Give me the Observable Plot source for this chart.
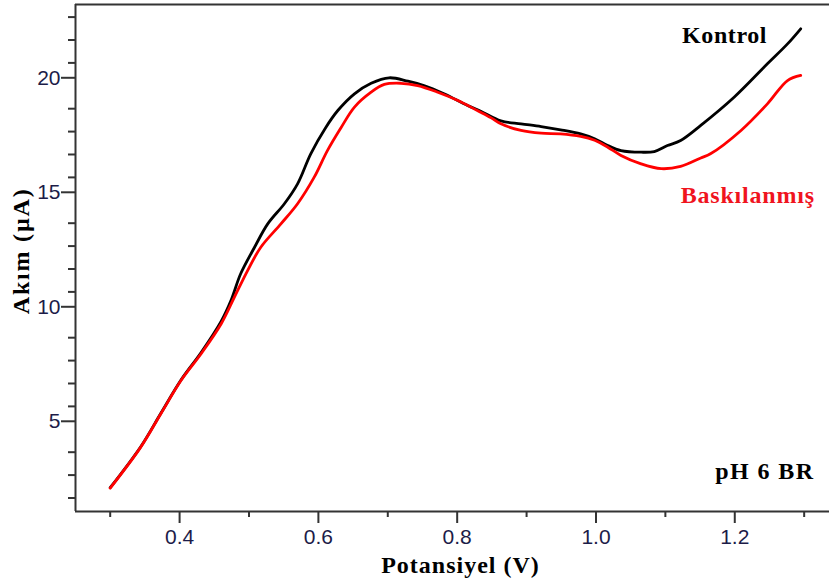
<!DOCTYPE html>
<html>
<head>
<meta charset="utf-8">
<script src="https://cdn.jsdelivr.net/npm/d3@7"></script>
<script src="https://cdn.jsdelivr.net/npm/@observablehq/plot@0.6"></script>
<style>
  html, body { margin: 0; padding: 0; background: #fff; }
  svg { display: block; }
</style>
</head>
<body>
<div id="chart"></div>
<script>
// Series names
const seriesNames = ["Kontrol", "Baskılanmış"];

// Kontrol (black) — potential (V) and current (µA)
const kontrolPotential = [0.300,0.344,0.373,0.402,0.431,0.460,0.474,0.488,0.508,0.527,0.551,0.570,0.589,0.610,0.628,0.652,0.676,0.702,0.729,0.752,0.781,0.815,0.834,0.863,0.892,0.921,0.949,0.978,0.998,1.017,1.036,1.065,1.084,1.103,1.122,1.151,1.199,1.247,1.276,1.295];
const kontrolCurrent   = [2.45,4.24,5.70,7.15,8.35,9.72,10.62,11.79,12.95,13.97,14.85,15.72,17.03,18.15,18.92,19.65,20.11,20.35,20.20,20.01,19.65,19.14,18.89,18.47,18.34,18.22,18.08,17.90,17.69,17.39,17.17,17.10,17.13,17.39,17.61,18.27,19.50,20.96,21.83,22.49];

// Baskılanmış (red)
const baskiPotential = [0.300,0.344,0.373,0.402,0.431,0.460,0.479,0.498,0.517,0.546,0.570,0.594,0.613,0.633,0.652,0.676,0.695,0.719,0.743,0.772,0.801,0.829,0.849,0.863,0.892,0.921,0.949,0.978,0.998,1.017,1.036,1.065,1.094,1.122,1.151,1.165,1.209,1.247,1.276,1.295];
const baskiCurrent   = [2.43,4.22,5.68,7.13,8.30,9.61,10.77,11.93,12.95,13.97,14.85,16.01,17.17,18.19,19.07,19.72,20.06,20.11,20.01,19.72,19.36,18.92,18.60,18.34,18.05,17.93,17.90,17.79,17.62,17.32,16.96,16.59,16.38,16.48,16.85,17.03,18.05,19.21,20.23,20.45];

// Ticks
const xMajorTicks = [0.4, 0.6, 0.8, 1.0, 1.2];
const xMinorTicks = [0.3, 0.5, 0.7, 0.9, 1.1, 1.3];
const yMajorTicks = [5, 10, 15, 20];
const yMinorTicks = [2,3,4,6,7,8,9,11,12,13,14,16,17,18,19,21,22,23];

// Text
const xTitle = "Potansiyel (V)";
const yTitle = "Akım (µA)";
const condition = "pH 6 BR";

const kontrolData = kontrolPotential.map((p, i) => ({p, c: kontrolCurrent[i]}));
const baskiData = baskiPotential.map((p, i) => ({p, c: baskiCurrent[i]}));

const X0 = 0.25, X1 = 1.3365, Y0 = 1.41, Y1 = 23.55;
const serif = "'Liberation Serif', 'Times New Roman', serif";
const sans = "'Liberation Sans', Arial, sans-serif";
const axisColor = "#333";
const tickTextColor = "#1c1c48";

const chart = Plot.plot({
  width: 829,
  height: 582,
  marginLeft: 75,
  marginRight: 0,
  marginTop: 4,
  marginBottom: 71,
  x: {domain: [X0, X1], label: null},
  y: {domain: [Y0, Y1], label: null},
  style: {background: "#fff", overflow: "visible"},
  marks: [
    // frame
    Plot.ruleY([Y1], {stroke: axisColor, strokeWidth: 2}),
    Plot.ruleX([X0], {stroke: axisColor, strokeWidth: 2}),
    Plot.ruleY([Y0], {stroke: axisColor, strokeWidth: 2}),
    // y axis
    Plot.axisY(yMinorTicks, {tickSize: 7, stroke: axisColor, strokeWidth: 2, tickFormat: () => "", label: null}),
    Plot.axisY(yMajorTicks, {tickSize: 14, tickPadding: 1, dy: -8, stroke: axisColor, strokeWidth: 2, fill: tickTextColor, fontSize: 21, fontFamily: sans, tickFormat: d => String(d), label: null}),
    // x axis
    Plot.axisX(xMinorTicks, {tickSize: 6, stroke: axisColor, strokeWidth: 2, tickFormat: () => "", label: null}),
    Plot.axisX(xMajorTicks, {tickSize: 12, tickPadding: 6, stroke: axisColor, strokeWidth: 2, fill: tickTextColor, fontSize: 21, fontFamily: sans, tickFormat: d3.format(".1f"), label: null}),
    // curves
    Plot.line(kontrolData, {x: "p", y: "c", stroke: "#000", strokeWidth: 2.8, curve: "catmull-rom"}),
    Plot.line(baskiData, {x: "p", y: "c", stroke: "#ff0000", strokeWidth: 2.8, curve: "catmull-rom"}),
    // annotations
    Plot.text([seriesNames[0]], {x: 1.124, y: 21.86, text: d => d, textAnchor: "start", lineAnchor: "bottom", fontSize: 24, fontWeight: "bold", fontFamily: serif, fill: "#000"}),
    Plot.text([seriesNames[1]], {x: 1.122, y: 14.90, text: d => d, textAnchor: "start", lineAnchor: "bottom", fontSize: 24, fontWeight: "bold", fontFamily: serif, fill: "#f0141e"}),
    Plot.text([condition], {x: 1.172, y: 2.81, text: d => d, textAnchor: "start", lineAnchor: "bottom", fontSize: 24, fontWeight: "bold", fontFamily: serif, fill: "#000"}),
    // axis titles
    Plot.text([xTitle], {x: 0.8048, y: -1.27, text: d => d, textAnchor: "middle", lineAnchor: "bottom", fontSize: 24, fontWeight: "bold", fontFamily: serif, fill: "#000"}),
    Plot.text([yTitle], {x: 0.1715, y: 12.79, text: d => d, textAnchor: "middle", lineAnchor: "middle", rotate: -90, fontSize: 24, fontWeight: "bold", fontFamily: serif, fill: "#000"})
  ]
});
document.getElementById("chart").appendChild(chart);

// letter spacing to match the wider-set serif labels of the original
const spacing = {"Kontrol": 0.6, "Baskılanmış": 0.8, "pH 6 BR": 1.4, "Potansiyel (V)": 1.0, "Akım (µA)": 1.8};
d3.select(chart).selectAll("text").each(function() {
  const t = this.textContent;
  if (spacing[t] != null) this.setAttribute("letter-spacing", spacing[t]);
});
</script>
</body>
</html>
